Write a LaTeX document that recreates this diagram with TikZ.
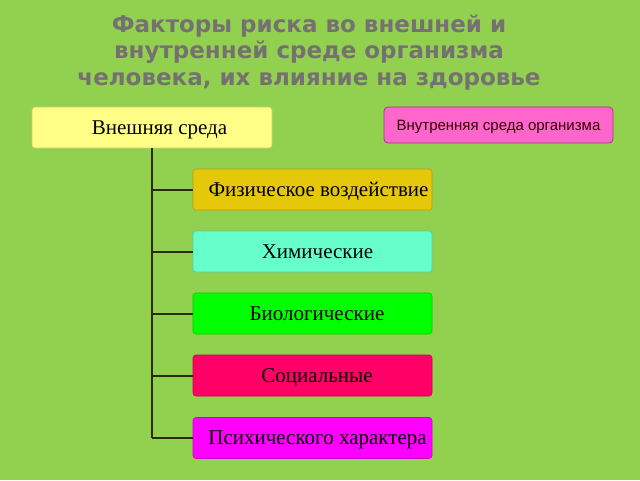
\documentclass[tikz,border=0pt]{standalone}
\usepackage{fontspec}
\setmainfont{Liberation Serif}
\newfontfamily\titlefont{DejaVu Sans}
\newfontfamily\boxsans{Liberation Sans}
\definecolor{bg}{HTML}{92D050}
\definecolor{titlegray}{HTML}{767171}
\definecolor{cyellow}{HTML}{FFFF88}
\definecolor{cpink}{HTML}{FF66CC}
\definecolor{cgold}{HTML}{E6C80A}
\definecolor{caqua}{HTML}{66FFCC}
\definecolor{cgreen}{HTML}{00FF00}
\definecolor{cred}{HTML}{FF0066}
\definecolor{cmag}{HTML}{FF00FF}
\definecolor{linec}{HTML}{2B2B05}
\tikzset{
  fbox/.style={draw=#1!80!black, line width=0.6pt, rounded corners=3pt, fill=#1, minimum width=239pt, minimum height=41pt, inner sep=0pt, text height=13.9pt, text depth=0pt, font=\fontsize{21}{23}\selectfont, text=black},
  tree/.style={draw=linec, line width=2pt}
}
\begin{document}
\begin{tikzpicture}[x=1pt,y=-1pt]
\fill[bg] (0,0) rectangle (640,480);
\useasboundingbox (0,0) rectangle (640,480);
\node[align=center, text=titlegray, font=\titlefont\bfseries\fontsize{23}{26.5}\selectfont] (title) at (309,52.5) {Факторы риска во внешней и\\внутренней среде организма\\человека, их влияние на здоровье};
\node[fbox=cyellow, minimum width=240pt] (ext) at (152,127.5) {\hspace*{15pt}Внешняя среда};
\node[draw=cpink!60!black, line width=0.8pt, rounded corners=4pt, fill=cpink, minimum width=229pt, minimum height=36pt, inner sep=0pt, text height=10.5pt, text depth=0pt, font=\boxsans\fontsize{15}{17}\selectfont, text=black!80!red] (int) at (498.5,125) {Внутренняя среда организма};
\node[fbox=cgold] (f1) at (312.5,189.5) {\hspace*{12pt}Физическое воздействие};
\node[fbox=caqua] (f2) at (312.5,251.5) {\hspace*{10pt}Химические};
\node[fbox=cgreen] (f3) at (312.5,313.5) {\hspace*{9pt}Биологические};
\node[fbox=cred] (f4) at (312.5,375.5) {\hspace*{9pt}Социальные};
\node[fbox=cmag] (f5) at (312.5,438) {\hspace*{10pt}Психического характера};
\coordinate (bot) at (152,438);
\draw[tree] (ext.south) -- (bot);
\foreach \n in {f1,f2,f3,f4,f5} \draw[tree] (\n.west) -- (\n.west -| ext.south);
\end{tikzpicture}
\end{document}
